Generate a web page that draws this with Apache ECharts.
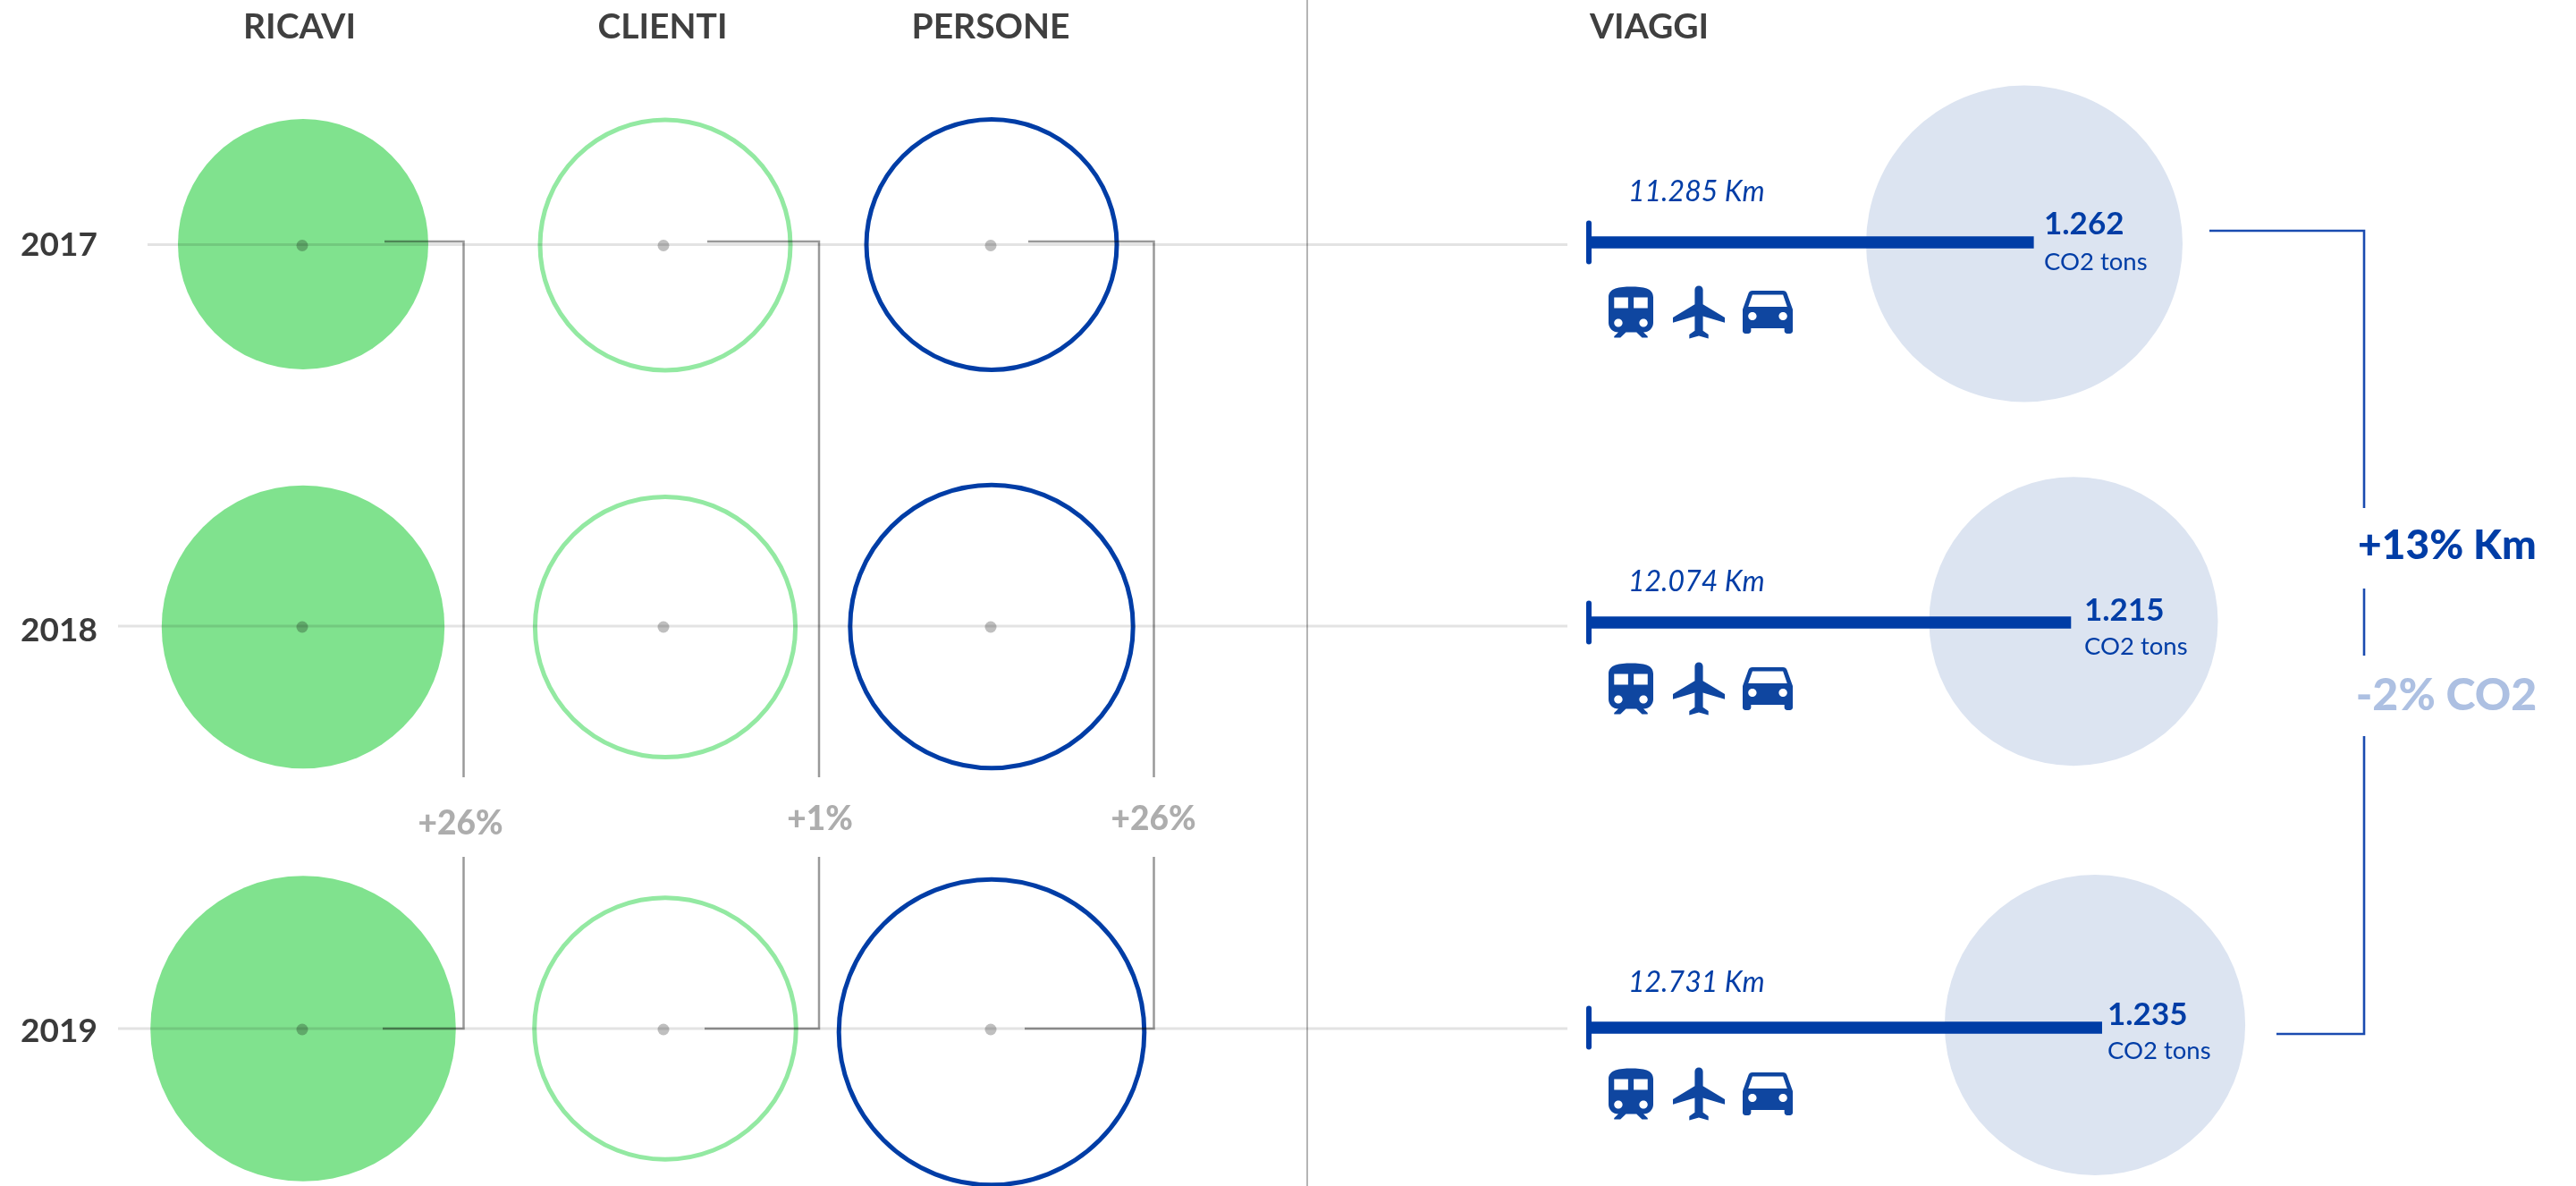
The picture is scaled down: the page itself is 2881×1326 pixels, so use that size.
<!DOCTYPE html>
<html>
<head>
<meta charset="utf-8">
<title>Ricavi, clienti, persone, viaggi</title>
<style>
  html, body { margin: 0; padding: 0; background: #fff; }
  #chart { width: 2881px; height: 1326px; }
</style>
</head>
<body>
<div id="chart"></div>
<script src="https://cdn.jsdelivr.net/npm/echarts@6/dist/echarts.min.js"></script>
<script>
// Data
const years = ['2017', '2018', '2019']
const columns = ['RICAVI', 'CLIENTI', 'PERSONE']
// circles carry no printed value, so these are indexes estimated from their diameter
const ricavi = [100, 113, 122]
const clienti = [100, 104, 104.5]
const persone = [100, 113, 122]
const kmValues = [11285, 12074, 12731]
const co2Values = [1262, 1215, 1235]
const kmLabels = ['11.285 Km', '12.074 Km', '12.731 Km']
const co2Labels = ['1.262', '1.215', '1.235']
const deltas = ['+26%', '+1%', '+26%']

// Layout (page pixels, mapped through the hidden page axes)
const colX = [339, 744, 1109]
const rowY = [273.5, 700, 1150]
const circleY = [[273, 701, 1150], [274, 701, 1150], [273.5, 700.5, 1154]]
const barY = [271, 696, 1149]
const co2X = [2264, 2319, 2343]
const co2Y = [272.5, 694.7, 1146]
const iconX = [1824, 1900, 1977]
const iconY = [349, 770, 1223]
const valueX = [2286, 2331, 2357]

const BLUE = '#003da6'
const GREEN = '#80e28e'
const GREEN_LINE = '#93e9a2'
const PALE_BLUE = '#dce4f1'
const FONT = 'Lato, sans-serif'

// Hidden km axis: it starts above zero so the bars keep the proportions of the picture
const KM_MIN = 1860
const KM_MAX = 20800

const SYMBOL_TRAIN = 'path://M12 2c-4 0-8 .5-8 4v9.5C4 17.43 5.57 19 7.5 19L6 20.5v.5h2.23l2-2H14l2 2h2v-.5L16.5 19c1.93 0 3.5-1.57 3.5-3.5V6c0-3.5-3.58-4-8-4zM7.5 17c-.83 0-1.5-.67-1.5-1.5S6.67 14 7.5 14s1.5.67 1.5 1.5S8.33 17 7.5 17zm3.5-7H6V6h5v4zm2 0V6h5v4h-5zm3.5 7c-.83 0-1.5-.67-1.5-1.5s.67-1.5 1.5-1.5 1.5.67 1.5 1.5-.67 1.5-1.5 1.5z'
const SYMBOL_PLANE = 'path://M21 16v-2l-8-5V3.5c0-.83-.67-1.5-1.5-1.5S10 2.67 10 3.5V9l-8 5v2l8-2.5V19l-2 1.5V22l3.5-1 3.5 1v-1.5L13 19v-5.5l8 2.5z'
const SYMBOL_CAR = 'path://M18.92 6.01C18.72 5.42 18.16 5 17.5 5h-11c-.66 0-1.21.42-1.42 1.01L3 12v8c0 .55.45 1 1 1h1c.55 0 1-.45 1-1v-1h12v1c0 .55.45 1 1 1h1c.55 0 1-.45 1-1v-8l-2.08-5.99zM6.5 16c-.83 0-1.5-.67-1.5-1.5S5.67 13 6.5 13s1.5.67 1.5 1.5S7.33 16 6.5 16zm11 0c-.83 0-1.5-.67-1.5-1.5s.67-1.5 1.5-1.5 1.5.67 1.5 1.5-.67 1.5-1.5 1.5zM5 11l1.5-4.5h11L19 11H5z'

// Circle diameter from the estimated index
function diameter(v) {
  return v * 2.8
}

// Bubble diameter from the CO2 tons
function co2Diameter(v) {
  return 323 + (v - 1215) * 0.66
}

// Scatter series for one left hand column
function circleSeries(name, values, col, itemStyle) {
  return {
    name,
    type: 'scatter',
    xAxisIndex: 0,
    yAxisIndex: 0,
    clip: false,
    silent: true,
    z: 1,
    itemStyle,
    data: values.map((v, i) => ({
      value: [colX[col], circleY[col][i]],
      symbolSize: diameter(v)
    }))
  }
}

// Thin line on the page axes
function pageLine(points, color, width, z) {
  return {
    type: 'line',
    xAxisIndex: 0,
    yAxisIndex: 0,
    silent: true,
    clip: false,
    symbol: 'none',
    z,
    lineStyle: { color, width, cap: 'butt', join: 'miter' },
    data: points
  }
}

// Connector from the 2017 circle to the 2019 circle, with a gap for its label
function connector(x, startTop, startBottom) {
  const color = 'rgba(0,0,0,0.4)'
  return [
    pageLine([[startTop, 270], [x, 270], [x, 869]], color, 2.5, 4),
    pageLine([[x, 958], [x, 1150], [startBottom, 1150]], color, 2.5, 4)
  ]
}

// Icons of one kind on every row
function iconSeries(symbol, col, size) {
  return {
    type: 'scatter',
    xAxisIndex: 0,
    yAxisIndex: 0,
    clip: false,
    silent: true,
    symbol,
    symbolSize: size,
    z: 4,
    itemStyle: { color: '#0f46a0', opacity: 1 },
    data: iconY.map(y => [iconX[col], y])
  }
}

function text(str, x, y, font, fill, align) {
  return {
    type: 'text',
    silent: true,
    z: 10,
    style: { text: str, x, y, font, fill, textAlign: align || 'left', textVerticalAlign: 'middle' }
  }
}

const chart = echarts.init(document.getElementById('chart'))

const graphics = [
  text(columns[0], 335, 30, `700 39px ${FONT}`, '#3f3f3f', 'center'),
  text(columns[1], 741, 30, `700 39px ${FONT}`, '#3f3f3f', 'center'),
  text(columns[2], 1108, 30, `700 39px ${FONT}`, '#3f3f3f', 'center'),
  text('VIAGGI', 1778, 30, `700 39px ${FONT}`, '#3f3f3f'),
  text(years[0], 23, 274, `700 37px ${FONT}`, '#3a3a3a'),
  text(years[1], 23, 705, `700 37px ${FONT}`, '#3a3a3a'),
  text(years[2], 23, 1153, `700 37px ${FONT}`, '#3a3a3a'),
  text(deltas[0], 515, 921, `900 37px ${FONT}`, '#adadad', 'center'),
  text(deltas[1], 917, 916, `900 37px ${FONT}`, '#adadad', 'center'),
  text(deltas[2], 1290, 916, `900 37px ${FONT}`, '#adadad', 'center'),
  text('+13% Km', 2737, 610, `900 46px ${FONT}`, BLUE, 'center'),
  text('-2% CO2', 2736, 778, `900 50px ${FONT}`, '#adc0e2', 'center')
]
const kmTextY = [215, 651, 1099]
const valueTextY = [251, 682.5, 1134.5]
const unitTextY = [293, 723, 1175]
years.forEach((y, i) => {
  graphics.push(text(kmLabels[i], 1821, kmTextY[i], `italic 400 32px ${FONT}`, BLUE))
  graphics.push(text(co2Labels[i], valueX[i], valueTextY[i], `700 35px ${FONT}`, BLUE))
  graphics.push(text('CO2 tons', valueX[i], unitTextY[i], `400 27.5px ${FONT}`, BLUE))
})

const series = [
  // CO2 bubbles
  {
    name: 'CO2 tons',
    type: 'scatter',
    xAxisIndex: 0,
    yAxisIndex: 0,
    clip: false,
    silent: true,
    z: 1,
    itemStyle: { color: PALE_BLUE, opacity: 1 },
    data: co2Values.map((v, i) => ({
      value: [co2X[i], co2Y[i]],
      symbolSize: co2Diameter(v)
    }))
  },
  circleSeries(columns[0], ricavi, 0, { color: GREEN, opacity: 1 }),
  circleSeries(columns[1], clienti, 1, { color: 'rgba(0,0,0,0)', borderColor: GREEN_LINE, borderWidth: 5, opacity: 1 }),
  circleSeries(columns[2], persone, 2, { color: 'rgba(0,0,0,0)', borderColor: BLUE, borderWidth: 5, opacity: 1 }),
  // year lines
  pageLine([[165, rowY[0]], [1753, rowY[0]]], 'rgba(0,0,0,0.11)', 3, 3),
  pageLine([[132, rowY[1]], [1753, rowY[1]]], 'rgba(0,0,0,0.11)', 3, 3),
  pageLine([[132, rowY[2]], [1753, rowY[2]]], 'rgba(0,0,0,0.11)', 3, 3),
  // circle centres
  {
    type: 'scatter',
    xAxisIndex: 0,
    yAxisIndex: 0,
    silent: true,
    symbolSize: 13,
    z: 5,
    itemStyle: { color: 'rgba(0,0,0,0.25)', opacity: 1 },
    data: rowY.flatMap(y => [338, 742, 1108].map(x => [x, y + 1]))
  },
  ...connector(518.5, 430, 428),
  ...connector(916, 791, 788),
  ...connector(1290.5, 1150, 1146),
  // separator
  pageLine([[1462, 0], [1462, 1326]], '#b5b5b5', 2, 1),
  // bracket on the right
  pageLine([[2471, 258], [2644, 258], [2644, 568]], '#1a4bb0', 2.6, 4),
  pageLine([[2644, 658], [2644, 733]], '#1a4bb0', 2.6, 4),
  pageLine([[2644, 823], [2644, 1156], [2546, 1156]], '#1a4bb0', 2.6, 4),
  iconSeries(SYMBOL_TRAIN, 0, [50, 57]),
  iconSeries(SYMBOL_PLANE, 1, [58, 59]),
  iconSeries(SYMBOL_CAR, 2, [56, 48])
]

// Page grid first, then one small grid per km bar
const grid = [{ left: 0, right: 0, top: 0, bottom: 0 }]
const xAxis = [{ type: 'value', min: 0, max: 2881, show: false }]
const yAxis = [{ type: 'value', min: 0, max: 1326, inverse: true, show: false }]

years.forEach((year, i) => {
  grid.push({ left: 1777, width: 1000, top: barY[i] - 21.5, height: 43 })
  xAxis.push({ type: 'value', gridIndex: i + 1, min: KM_MIN, max: KM_MAX, show: false })
  yAxis.push({
    type: 'category',
    gridIndex: i + 1,
    data: [year],
    axisLine: { show: true, lineStyle: { color: BLUE, width: 6 } },
    axisTick: { show: false },
    axisLabel: { show: false },
    splitLine: { show: false }
  })
  series.push({
    name: 'Km ' + year,
    type: 'bar',
    xAxisIndex: i + 1,
    yAxisIndex: i + 1,
    barWidth: 13.5,
    silent: true,
    z: 2,
    itemStyle: { color: BLUE },
    data: [kmValues[i]]
  })
})

chart.setOption({
  animation: false,
  backgroundColor: '#fff',
  tooltip: { show: false },
  grid,
  xAxis,
  yAxis,
  series,
  graphic: graphics
})
</script>
</body>
</html>
